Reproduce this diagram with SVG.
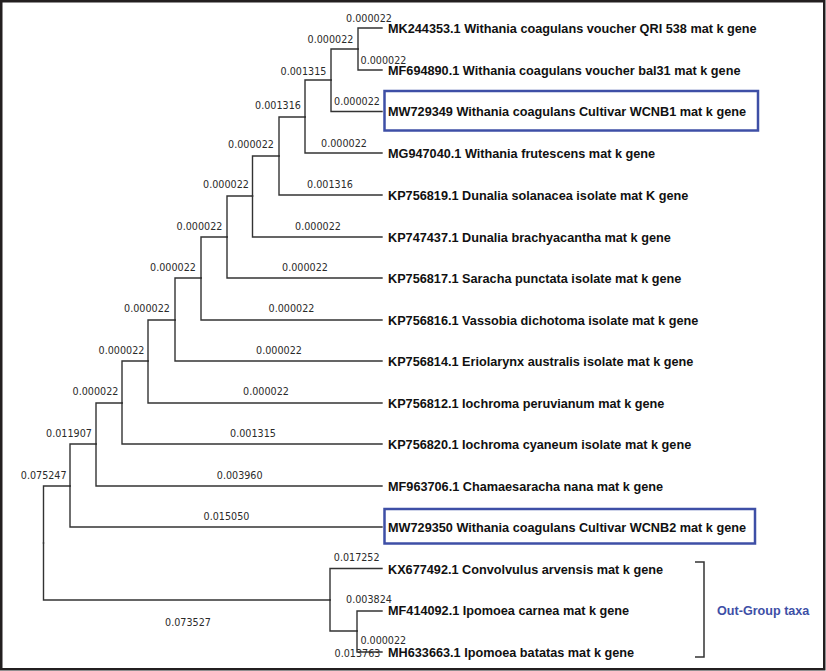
<svg xmlns="http://www.w3.org/2000/svg" width="826" height="671" viewBox="0 0 826 671">
<style>
.br{fill:none;stroke:#333;stroke-width:1.4;stroke-linecap:square}
.bl{font-family:"DejaVu Sans",Verdana,sans-serif;font-size:9.6px;fill:#2a2a2a;text-anchor:middle}
.lf{font-family:"Liberation Sans",Arial,sans-serif;font-size:12.7px;font-weight:bold;fill:#111}
.hl{fill:none;stroke:#3e4fa6;stroke-width:2.5}
</style>
<rect x="1.25" y="1.25" width="823" height="668" fill="#fff" stroke="#231f20" stroke-width="2.5"/>
<g id="connectors" class="br">
<path d="M358,49 V28 H382"/>
<path d="M358,49 V70 H382"/>
<path d="M331,80 V49 H358"/>
<path d="M331,80 V111.5 H382"/>
<path d="M305,117 V80 H331"/>
<path d="M305,117 V153 H382"/>
<path d="M279,156 V117 H305"/>
<path d="M279,156 V195 H382"/>
<path d="M252.5,196 V156 H279"/>
<path d="M252.5,196 V237 H382"/>
<path d="M227,237 V196 H252.5"/>
<path d="M227,237 V278 H382"/>
<path d="M201,278 V237 H227"/>
<path d="M201,278 V320 H382"/>
<path d="M175,320 V278 H201"/>
<path d="M175,320 V361 H382"/>
<path d="M148,361 V320 H175"/>
<path d="M148,361 V403 H382"/>
<path d="M122,403 V361 H148"/>
<path d="M122,403 V444 H382"/>
<path d="M96,444 V403 H122"/>
<path d="M96,444 V486 H382"/>
<path d="M70,486 V444 H96"/>
<path d="M70,486 V527 H382"/>
<path d="M43.5,543 V486 H70"/>
<path d="M43.5,543 V600 H330"/>
<path d="M330,600 V568.5 H382"/>
<path d="M330,600 V631 H357"/>
<path d="M357,631 V611 H382"/>
<path d="M357,631 V652 H382"/>
</g>
<g id="branch-labels" class="bl">
<text x="369" y="21.5">0.000022</text>
<text x="330.5" y="42.5">0.000022</text>
<text x="383.5" y="63.5">0.000022</text>
<text x="303.5" y="74.5">0.001315</text>
<text x="357" y="104.5">0.000022</text>
<text x="278" y="109">0.001316</text>
<text x="344" y="147">0.000022</text>
<text x="251" y="147.5">0.000022</text>
<text x="330" y="187.5">0.001316</text>
<text x="226" y="188">0.000022</text>
<text x="318" y="229.5">0.000022</text>
<text x="199.5" y="229.5">0.000022</text>
<text x="305" y="271">0.000022</text>
<text x="173" y="271">0.000022</text>
<text x="291.5" y="312">0.000022</text>
<text x="147" y="312">0.000022</text>
<text x="279" y="353.5">0.000022</text>
<text x="121.5" y="353.5">0.000022</text>
<text x="266" y="395">0.000022</text>
<text x="95.5" y="395">0.000022</text>
<text x="253" y="437">0.001315</text>
<text x="69" y="437">0.011907</text>
<text x="239.7" y="478.5">0.003960</text>
<text x="43.7" y="478.5">0.075247</text>
<text x="226.5" y="519.5">0.015050</text>
<text x="356.7" y="561">0.017252</text>
<text x="369" y="603">0.003824</text>
<text x="383.3" y="643.5">0.000022</text>
<text x="357.5" y="657">0.013763</text>
<text x="188" y="626">0.073527</text>
</g>
<g id="MK244353"><text class="lf" x="388" y="32.5">MK244353.1 Withania coagulans voucher QRI 538 mat k gene</text></g>
<g id="MF694890"><text class="lf" x="388" y="74.5">MF694890.1 Withania coagulans voucher bal31 mat k gene</text></g>
<g id="MW729349"><rect class="hl" x="384.5" y="91" width="373.5" height="39.5"/><text class="lf" x="388" y="116">MW729349 Withania coagulans Cultivar WCNB1 mat k gene</text></g>
<g id="MG947040"><text class="lf" x="388" y="157.5">MG947040.1 Withania frutescens mat k gene</text></g>
<g id="KP756819"><text class="lf" x="388" y="199.5">KP756819.1 Dunalia solanacea isolate mat K gene</text></g>
<g id="KP747437"><text class="lf" x="388" y="241.5">KP747437.1 Dunalia brachyacantha mat k gene</text></g>
<g id="KP756817"><text class="lf" x="388" y="282.5">KP756817.1 Saracha punctata isolate mat k gene</text></g>
<g id="KP756816"><text class="lf" x="388" y="324.5">KP756816.1 Vassobia dichotoma isolate mat k gene</text></g>
<g id="KP756814"><text class="lf" x="388" y="365.5">KP756814.1 Eriolarynx australis isolate mat k gene</text></g>
<g id="KP756812"><text class="lf" x="388" y="407.5">KP756812.1 Iochroma peruvianum mat k gene</text></g>
<g id="KP756820"><text class="lf" x="388" y="448.5">KP756820.1 Iochroma cyaneum isolate mat k gene</text></g>
<g id="MF963706"><text class="lf" x="388" y="490.5">MF963706.1 Chamaesaracha nana mat k gene</text></g>
<g id="MW729350"><rect class="hl" x="384.5" y="509" width="370.5" height="34.5"/><text class="lf" x="388" y="531.5">MW729350 Withania coagulans Cultivar WCNB2 mat k gene</text></g>
<g id="KX677492"><text class="lf" x="388" y="573.5">KX677492.1 Convolvulus arvensis mat k gene</text></g>
<g id="MF414092"><text class="lf" x="388" y="615">MF414092.1 Ipomoea carnea mat k gene</text></g>
<g id="MH633663"><text class="lf" x="388" y="656.5">MH633663.1 Ipomoea batatas mat k gene</text></g>
<g id="outgroup">
<path d="M695,562 H704 V657 H695" fill="none" stroke="#333" stroke-width="1.5"/>
<text x="717" y="615" font-family="Liberation Sans, Arial, sans-serif" font-size="12.6px" font-weight="bold" fill="#3e4fa6">Out-Group taxa</text>
</g>
</svg>
